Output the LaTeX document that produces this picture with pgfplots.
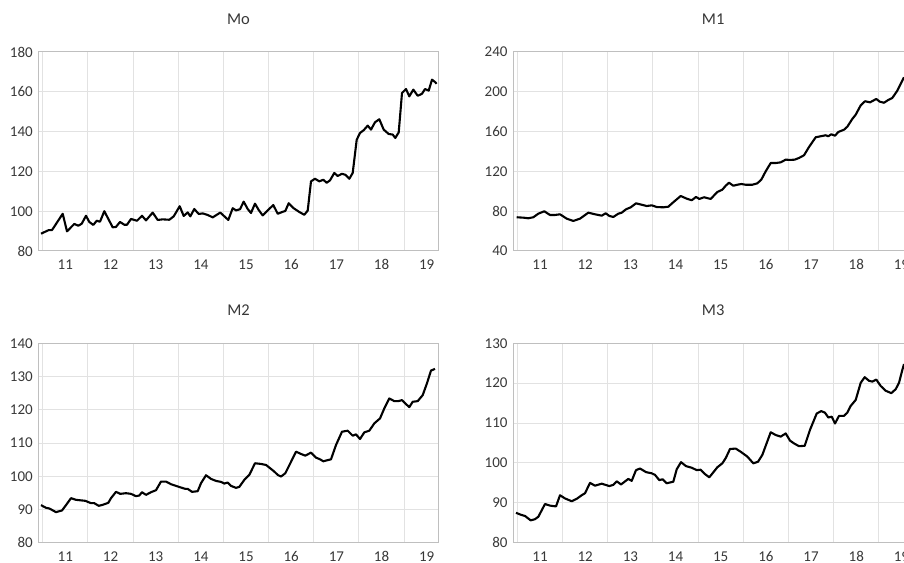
\documentclass[border=0pt]{standalone}
\usepackage{pgfplots}
\pgfplotsset{compat=1.18}
\usepackage{pgfplotstable}
\usepackage{fontspec}
\setmainfont{Carlito}
\definecolor{txt}{HTML}{383838}
\definecolor{gridc}{HTML}{E2E2E2}
\definecolor{framec}{HTML}{BFBFBF}

\pgfplotstableread{
x y
2.0 88.7
9.7 90.5
13.0 90.5
23.7 98.7
28.0 89.9
35.3 93.6
39.3 92.7
42.7 93.7
47.0 97.7
50.3 94.6
54.3 93.1
57.7 95.2
61.0 94.7
65.3 100.0
73.7 91.9
77.0 92.1
81.0 94.6
85.3 93.2
88.0 93.2
92.0 96.1
98.0 95.2
103.0 97.7
107.0 95.4
113.7 99.3
118.7 95.6
123.7 95.9
130.3 95.7
134.7 97.4
140.7 102.5
144.7 97.6
148.7 99.4
151.3 97.4
155.3 101.1
159.7 98.6
163.7 98.9
168.7 98.1
173.7 96.9
181.3 99.3
189.3 95.6
193.7 101.5
197.0 100.4
201.0 101.0
204.7 104.8
208.7 101.1
212.0 99.1
216.0 103.8
219.7 100.6
223.7 97.9
228.7 100.4
234.3 103.1
238.7 98.7
243.7 99.7
246.3 100.1
249.7 104.0
254.3 101.6
260.3 99.6
265.3 98.2
268.7 100.3
272.0 115.0
276.0 116.3
280.3 115.0
284.3 115.8
287.7 114.3
291.0 115.5
295.3 119.2
298.7 117.7
303.0 118.8
306.3 118.3
310.3 116.3
313.7 119.2
317.7 135.9
321.0 139.3
324.7 140.7
328.7 143.0
332.0 141.0
336.0 144.7
340.3 146.2
344.7 141.0
349.7 138.8
353.7 138.5
356.3 136.8
359.7 139.6
363.0 159.4
367.0 161.4
370.3 157.7
374.3 161.1
378.7 158.0
383.0 159.0
386.0 161.4
389.7 160.6
393.0 166.1
396.3 164.8
397.5 164.0
}\tabMo

\pgfplotstableread{
x y
3.0 73.9
9.6 73.5
14.6 72.9
19.6 73.9
24.6 77.5
30.6 79.9
36.3 76.2
41.3 76.2
46.3 76.9
53.0 72.5
59.6 70.2
66.3 72.5
74.6 78.5
81.3 76.9
88.0 75.5
92.0 77.9
95.6 75.2
99.6 74.2
104.6 77.5
108.0 78.5
112.3 81.9
117.0 83.9
122.3 87.9
128.0 86.5
133.0 85.2
138.0 85.9
143.0 84.2
149.6 83.9
154.6 84.5
159.6 89.0
167.0 95.3
173.0 92.6
178.0 91.0
182.3 94.3
185.6 92.3
190.3 94.0
197.0 92.3
203.6 99.3
208.6 101.6
212.0 105.6
215.3 108.6
219.6 105.6
223.6 106.6
227.6 107.3
232.0 106.6
238.6 106.6
243.6 108.0
247.6 111.7
252.0 120.1
257.0 128.4
262.0 128.4
267.0 129.1
272.0 131.8
276.3 131.5
281.0 131.8
285.3 133.5
290.3 136.2
295.3 144.5
302.0 154.3
307.0 155.3
312.0 156.3
314.6 155.3
317.6 157.3
321.3 155.9
324.6 159.6
330.3 161.9
333.6 164.9
338.6 172.7
342.0 177.0
347.0 186.4
351.3 190.5
356.3 189.4
362.6 192.8
366.0 190.1
370.3 189.0
374.6 191.8
378.6 193.8
383.6 201.1
387.0 208.1
390.3 214.6
}\tabMa

\pgfplotstableread{
x y
2.0 91.3
7.0 90.5
10.3 90.3
17.0 89.2
23.0 89.7
27.7 91.6
32.0 93.4
37.0 92.9
46.3 92.6
52.0 91.9
55.3 91.9
59.7 91.1
63.7 91.4
69.3 92.0
72.0 93.4
77.0 95.3
81.3 94.7
87.0 94.9
92.0 94.7
97.0 94.0
100.3 94.2
103.0 95.2
107.0 94.4
112.0 95.2
117.0 95.8
122.0 98.4
127.0 98.4
132.0 97.6
137.0 97.1
142.0 96.6
146.3 96.2
148.7 96.2
153.0 95.3
158.7 95.5
162.0 97.9
167.0 100.3
172.0 99.2
177.0 98.6
182.0 98.3
185.3 97.8
188.7 98.1
192.0 97.1
197.0 96.5
200.3 96.8
205.3 98.9
210.3 100.4
216.0 103.9
222.0 103.7
227.0 103.4
232.0 102.2
235.3 101.4
238.7 100.4
242.0 99.9
246.3 100.9
251.3 103.9
257.0 107.4
262.0 106.7
266.3 106.2
272.0 107.1
277.0 105.6
281.0 105.1
284.3 104.5
292.0 105.1
297.0 109.4
303.0 113.4
308.7 113.7
313.7 112.2
317.0 112.6
321.0 111.2
325.3 113.2
330.3 113.7
335.3 115.9
341.0 117.4
345.3 120.4
350.3 123.4
355.3 122.6
359.3 122.6
363.0 122.9
367.0 121.7
370.3 120.8
373.7 122.4
378.7 122.6
383.7 124.4
388.0 128.0
392.0 131.8
396.0 132.3
}\tabMb

\pgfplotstableread{
x y
2.3 87.5
7.3 87.0
11.3 86.7
17.0 85.6
21.3 85.9
24.6 86.5
31.3 89.7
36.3 89.3
42.3 89.1
46.3 91.9
51.3 91.1
58.0 90.4
63.0 91.0
68.0 91.9
71.3 92.4
76.3 95.0
81.3 94.3
88.0 94.8
95.6 94.2
99.6 94.5
103.0 95.4
107.3 94.6
114.6 96.0
118.0 95.5
122.3 98.2
126.3 98.6
132.3 97.7
138.0 97.4
141.3 97.0
145.6 95.7
149.0 95.9
153.0 94.9
159.6 95.3
163.0 98.4
167.3 100.2
172.3 99.2
178.0 98.8
183.0 98.2
187.0 98.3
191.3 97.2
195.6 96.4
203.6 98.9
208.6 99.9
212.0 101.2
216.3 103.5
222.0 103.6
227.0 102.8
233.6 101.6
239.6 99.9
244.3 100.3
248.6 102.0
257.0 107.7
262.0 107.0
267.0 106.6
272.0 107.4
276.3 105.6
280.3 104.9
285.3 104.2
291.0 104.3
296.3 108.3
303.0 112.4
307.6 113.0
311.3 112.6
314.6 111.4
318.0 111.6
321.3 109.9
325.3 111.8
330.3 111.8
333.6 112.6
337.0 114.3
342.0 115.8
347.0 120.1
351.0 121.5
355.3 120.6
358.6 120.4
362.6 120.9
367.0 119.3
372.0 118.1
377.6 117.5
382.0 118.5
385.3 120.1
388.6 123.3
390.3 124.8
}\tabMc

\pgfplotsset{
 panel/.style={
  scale only axis, width=399pt,
  xmin=0, xmax=399,
  xtick={26.35,71.52,116.69,161.86,207.03,252.2,297.37,342.54,387.71},
  xticklabels={11,12,13,14,15,16,17,18,19},
  minor xtick={3.76,48.93,94.1,139.27,184.44,229.61,274.78,319.95,365.12},
  xminorgrids, ymajorgrids, xmajorgrids=false,
  major tick length=0pt, minor tick length=0pt,
  grid style={draw=gridc, line width=1pt},
  minor grid style={draw=gridc, line width=1pt},
  axis line style={draw=framec, line width=1pt},
  tick style={draw=none},
  ticklabel style={font=\fontsize{15}{18}\selectfont, text=txt},
  /pgf/number format/assume math mode=true,
  yticklabel style={anchor=east, inner sep=0pt, xshift=-6pt},
  xticklabel style={anchor=base, inner sep=0pt, yshift=-18.5pt},
  every axis title shift=0pt,
  title style={font=\fontsize{16.5}{19}\selectfont, text=txt, at={(0.5,1)}, anchor=center, yshift=33pt},
  clip=true,
 },
 dline/.style={black, line width=2.1pt, line join=round, no marks},
}

\begin{document}
\begin{tikzpicture}
\useasboundingbox (0,0) rectangle (904pt,562pt);
\begin{axis}[panel, at={(39pt,311pt)}, anchor=south west, height=199pt,
  title={Mo}, ymin=80, ymax=180, ytick={80,100,120,140,160,180}]
\addplot[dline] table[x=x,y=y]{\tabMo};
\end{axis}
\begin{axis}[panel, at={(513.7pt,311pt)}, anchor=south west, height=199pt,
  title={M1}, ymin=40, ymax=240, ytick={40,80,120,160,200,240}]
\addplot[dline] table[x=x,y=y]{\tabMa};
\end{axis}
\begin{axis}[panel, at={(39pt,19.3pt)}, anchor=south west, height=199.4pt,
  title={M2}, ymin=80, ymax=140, ytick={80,90,100,110,120,130,140}]
\addplot[dline] table[x=x,y=y]{\tabMb};
\end{axis}
\begin{axis}[panel, at={(513.7pt,19.3pt)}, anchor=south west, height=199.4pt,
  title={M3}, ymin=80, ymax=130, ytick={80,90,100,110,120,130}]
\addplot[dline] table[x=x,y=y]{\tabMc};
\end{axis}
\end{tikzpicture}
\end{document}
